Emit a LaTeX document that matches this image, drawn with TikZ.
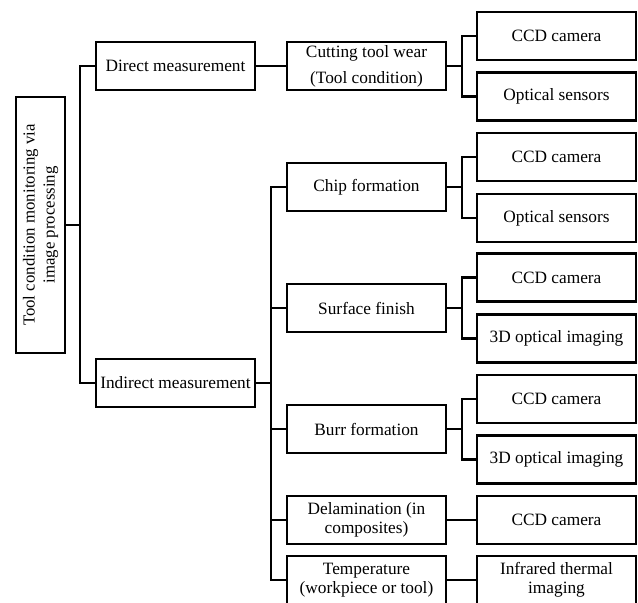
\documentclass[tikz,border=0pt]{standalone}
\usepackage{fontspec}
\setmainfont{Liberation Serif}
\begin{document}
\begin{tikzpicture}[x=0.5pt,y=-0.5pt,
  box/.style={draw,line width=1.1pt,inner sep=0pt,align=center,
    minimum width=79.5pt,minimum height=24pt,
    font=\fontsize{8.65pt}{13pt}\selectfont},
  tight/.style={font=\fontsize{8.65pt}{9.4pt}\selectfont},
  conn/.style={line width=1.1pt}]
\useasboundingbox (0,0) rectangle (638,602);
% root
\node[draw,line width=1.1pt,inner sep=0pt,align=center,rotate=90,
  minimum width=128pt,minimum height=24.5pt,
  font=\fontsize{8.4pt}{10pt}\selectfont] (root) at (40.5,225)
  {Tool condition monitoring via\\image processing};
% level 1
\node[box] (direct) at (175.5,66) {Direct measurement};
\node[box] (indirect) at (175.5,383) {Indirect measurement};
% level 2
\node[box] (wear) at (366.5,66) {Cutting tool wear\\(Tool condition)};
\node[box] (chip) at (366.5,187) {Chip formation};
\node[box] (surf) at (366.5,308) {Surface finish};
\node[box] (burr) at (366.5,429) {Burr formation};
\node[box,tight] (delam) at (366.5,520) {Delamination (in\\composites)};
\node[box,tight] (temp) at (366.5,580) {Temperature\\(workpiece or tool)};
% level 3
\node[box] (ccda) at (556.5,36) {CCD camera};
\node[box] (opta) at (556.5,96.5) {Optical sensors};
\node[box] (ccdb) at (556.5,157) {CCD camera};
\node[box] (optb) at (556.5,218) {Optical sensors};
\node[box] (ccdc) at (556.5,277.5) {CCD camera};
\node[box] (tdc) at (556.5,338.5) {3D optical imaging};
\node[box] (ccdd) at (556.5,399) {CCD camera};
\node[box] (tdd) at (556.5,459.5) {3D optical imaging};
\node[box] (ccde) at (556.5,520) {CCD camera};
\node[box,tight] (ir) at (556.5,580) {Infrared thermal\\imaging};
% coordinates of forks
\coordinate (t1) at (80,225);
\coordinate (t2) at (271,383);
\coordinate (fa) at (462,66);
\coordinate (fb) at (462,187);
\coordinate (fc) at (462,308);
\coordinate (fd) at (462,429);
% connectors
\draw[conn] (root.south) -- (t1);
\draw[conn] (direct.west) -| (t1) |- (indirect.west);
\draw[conn] (direct.east) -- (wear.west);
\draw[conn] (indirect.east) -- (t2);
\draw[conn] (chip.west) -| (t2) |- (temp.west);
\draw[conn] (surf.west) -- (surf.west -| t2);
\draw[conn] (burr.west) -- (burr.west -| t2);
\draw[conn] (delam.west) -- (delam.west -| t2);
\draw[conn] (wear.east) -- (fa);
\draw[conn] (ccda.west) -| (fa) |- (opta.west);
\draw[conn] (chip.east) -- (fb);
\draw[conn] (ccdb.west) -| (fb) |- (optb.west);
\draw[conn] (surf.east) -- (fc);
\draw[conn] (ccdc.west) -| (fc) |- (tdc.west);
\draw[conn] (burr.east) -- (fd);
\draw[conn] (ccdd.west) -| (fd) |- (tdd.west);
\draw[conn] (delam.east) -- (ccde.west);
\draw[conn] (temp.east) -- (ir.west);
\end{tikzpicture}
\end{document}
